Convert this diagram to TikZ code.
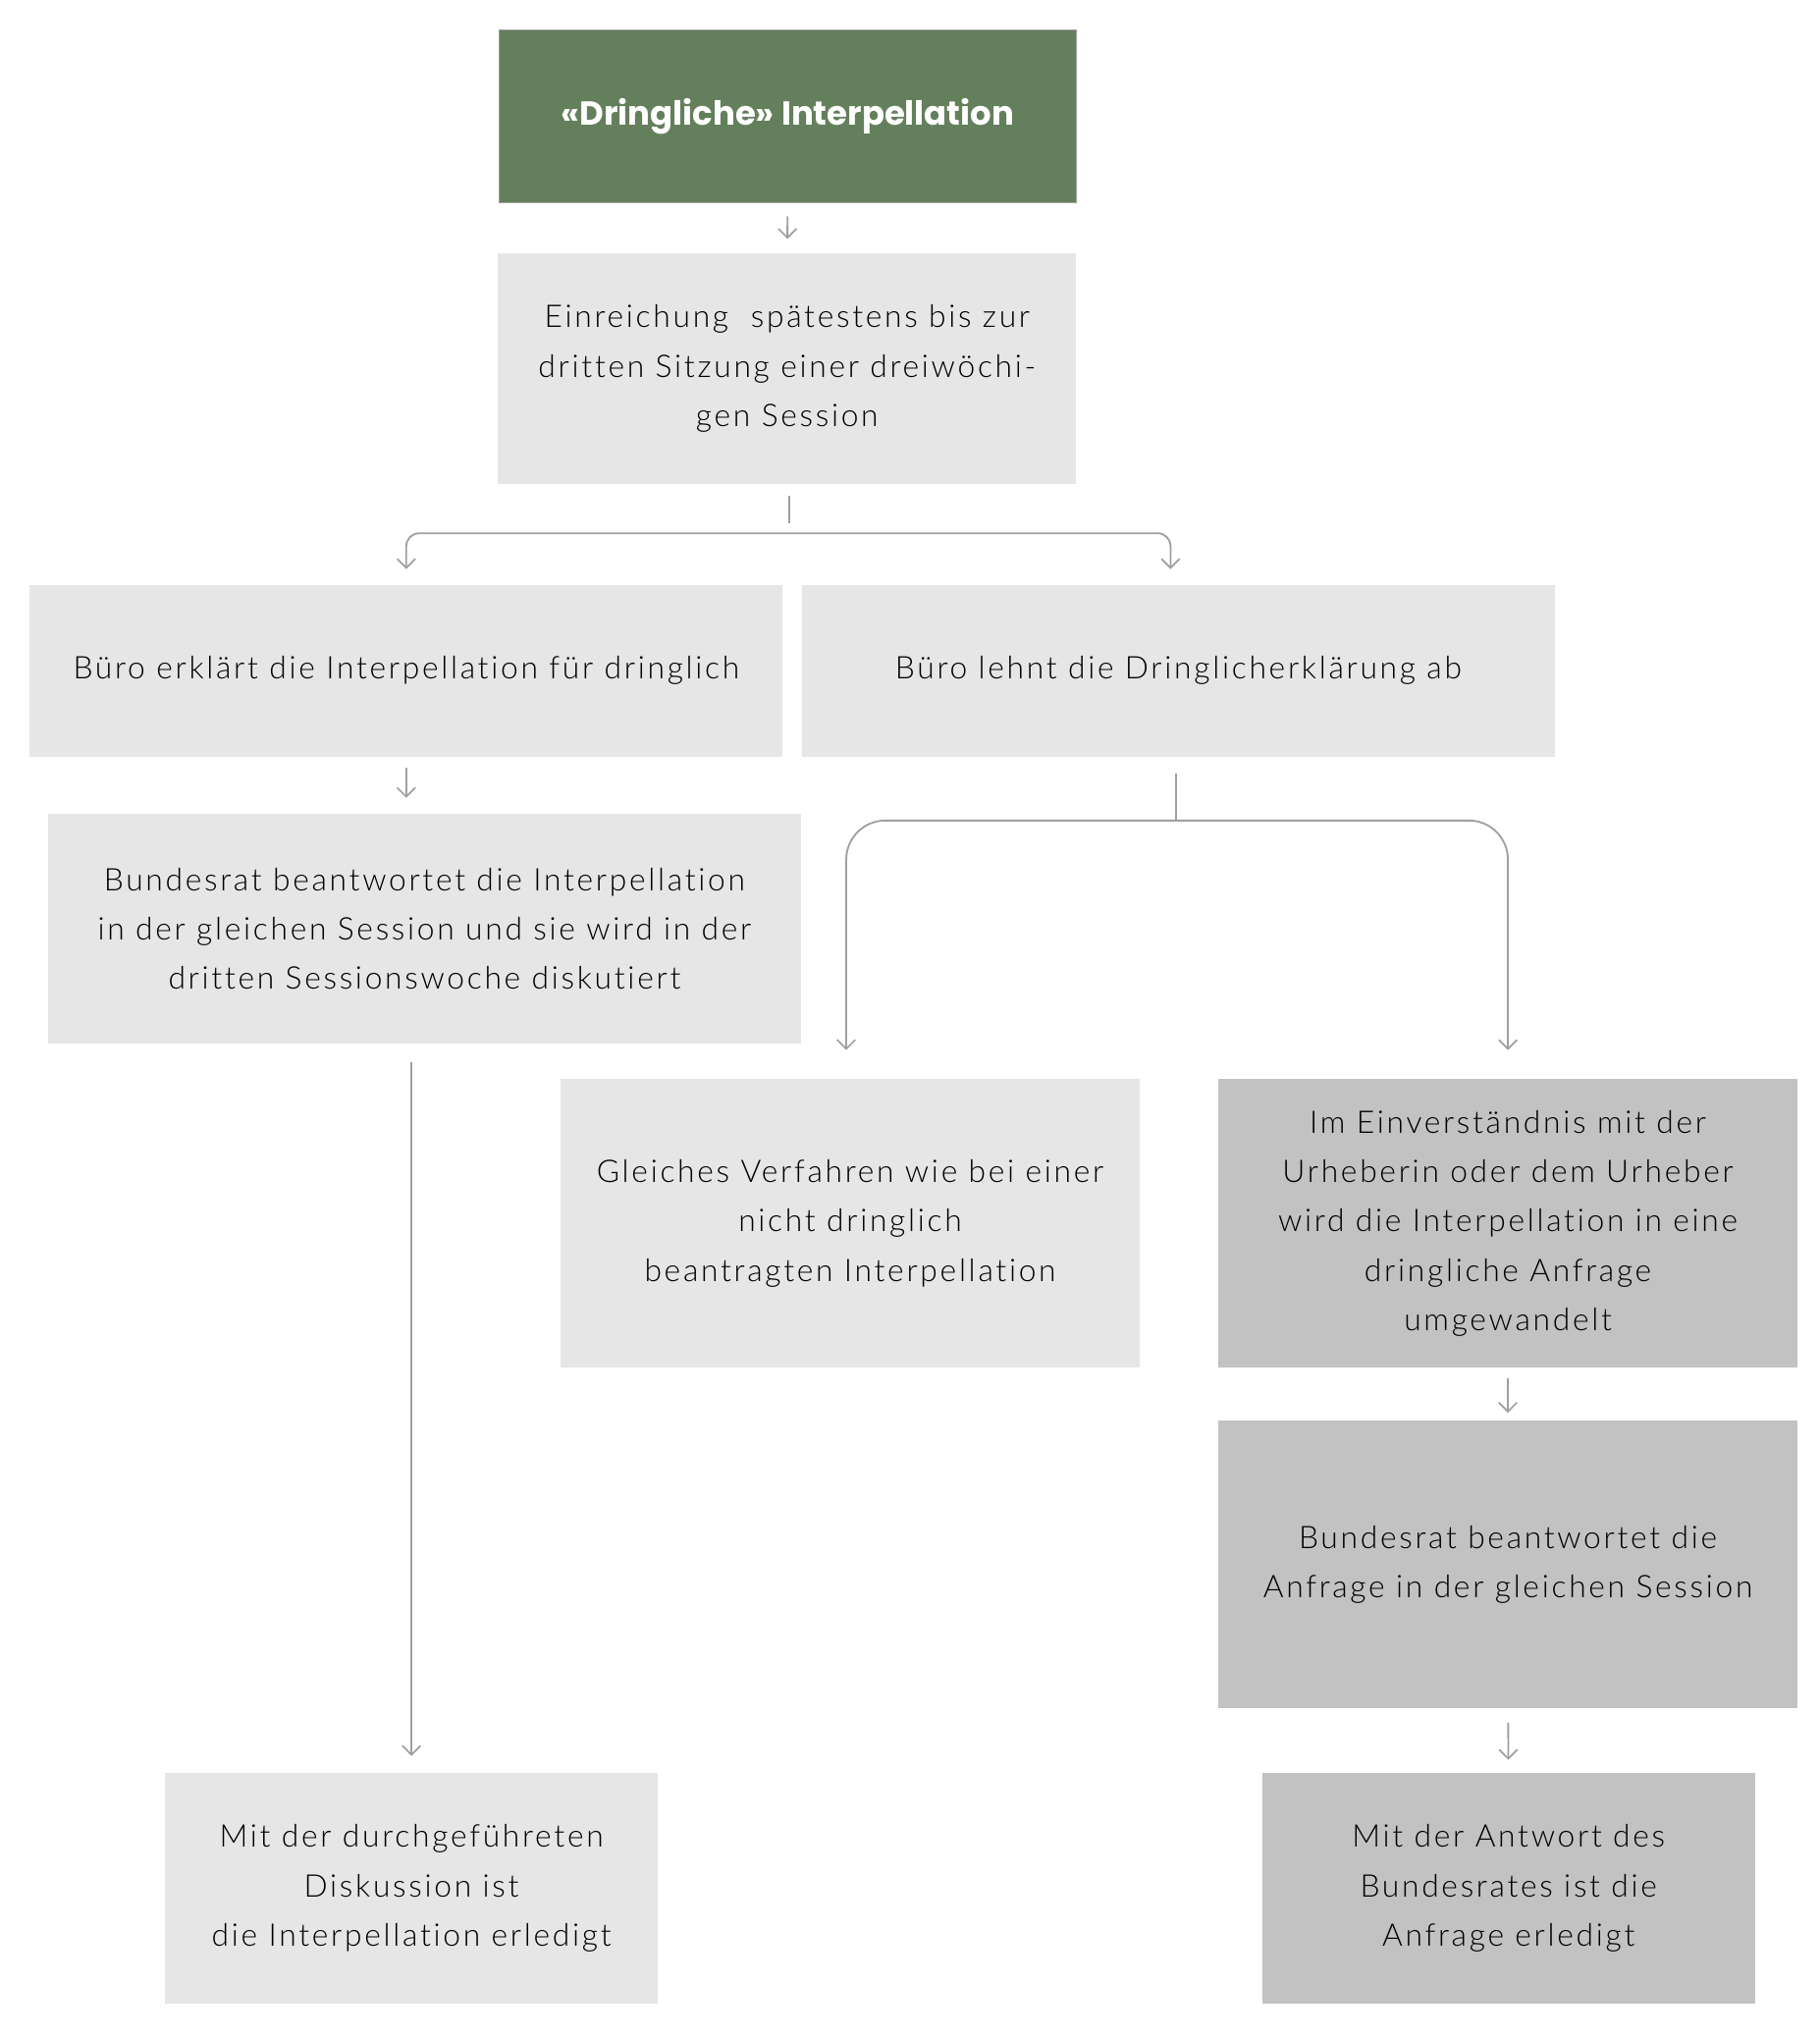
\documentclass[tikz,border=0pt]{standalone}
\usepackage{fontspec}
\setmainfont{Lato}[UprightFont={* Light},BoldFont={* Bold},LetterSpace=8.5,Ligatures=NoCommon]
\newfontfamily\titlefont{Poppins}
\usetikzlibrary{arrows.meta}
\definecolor{dgreen}{RGB}{100,127,92}
\definecolor{lgray}{RGB}{230,230,230}
\definecolor{mgray}{RGB}{194,194,194}
\definecolor{lcol}{RGB}{160,160,160}
\newcommand{\dn}[1]{\raisebox{-3pt}{\begin{tabular}{@{}c@{}}#1\end{tabular}}}
\begin{document}
\begin{tikzpicture}[x=1pt,y=-1pt,
  box/.style={fill=lgray,draw=none,inner sep=0pt,align=center,font=\fontsize{24}{38}\selectfont,text=black},
  dbox/.style={box,fill=mgray},
  conn/.style={draw=lcol,line width=1.4pt},
  arr/.style={conn,-{Straight Barb[length=7pt,width=14pt,line width=1.3pt]}}]
\useasboundingbox (0,0) rectangle (1400,1567);
% boxes
\node[box,fill=dgreen,draw=lcol,line width=1pt,minimum width=444,minimum height=133,text=white,font=\titlefont\bfseries\fontsize{25.6}{30}\selectfont] (b1) at (606,89.5) {«Dringliche» Interpellation};
\node[box,minimum width=445,minimum height=177] (b2) at (605.5,283.5) {Einreichung\ \ spätestens bis zur\\dritten Sitzung einer dreiwöchi-\\gen Session};
\node[box,minimum width=579,minimum height=132] (b3l) at (312.5,516) {Büro erklärt die Interpellation für dringlich};
\node[box,minimum width=579,minimum height=132] (b3r) at (906.5,516) {Büro lehnt die Dringlicherklärung ab};
\node[box,minimum width=579,minimum height=177] (b4) at (326.5,714.5) {Bundesrat beantwortet die Interpellation\\in der gleichen Session und sie wird in der\\dritten Sessionswoche diskutiert};
\node[box,minimum width=446,minimum height=222] (b5m) at (654,941) {Gleiches Verfahren wie bei einer\\nicht dringlich\\beantragten Interpellation};
\node[dbox,minimum width=446,minimum height=222] (b5r) at (1160,941) {Im Einverständnis mit der\\Urheberin oder dem Urheber\\wird die Interpellation in eine\\dringliche Anfrage\\umgewandelt};
\node[dbox,minimum width=446,minimum height=221] (b6) at (1160,1203.5) {Bundesrat beantwortet die\\Anfrage in der gleichen Session};
\node[box,minimum width=379,minimum height=177] (b7l) at (316.5,1452.5) {Mit der durchgeführeten\\Diskussion ist\\die Interpellation erledigt};
\node[dbox,minimum width=379,minimum height=177] (b7r) at (1160.5,1452.5) {Mit der Antwort des\\Bundesrates ist die\\Anfrage erledigt};
% connectors
\draw[arr,shorten <=10pt,shorten >=11pt] (b1) -- (b2);
\coordinate (s1) at ([yshift=-38]b2.south);
\draw[conn] ([xshift=1.5,yshift=-9]b2.south) -- ([xshift=1.5,yshift=-30]b2.south);
\draw[arr,rounded corners=10pt,shorten >=12pt] (s1) -| ([xshift=-6]b3r.north);
\draw[arr,rounded corners=10pt,shorten >=12pt] (s1) -| (b3l.north);
\draw[arr,shorten <=8pt,shorten >=12pt] (b3l) -- (b3l.south |- b4.north);
\coordinate (s2) at ([xshift=-1.5,yshift=-49]b3r.south);
\draw[conn] ([xshift=-1.5,yshift=-13]b3r.south) -- (s2);
\draw[arr,rounded corners=30pt,shorten >=22pt] (s2) -| ([xshift=-3]b5m.north);
\draw[arr,rounded corners=30pt,shorten >=22pt] (s2) -| (b5r.north);
\draw[arr,shorten <=14pt,shorten >=13pt] (b7l.north |- b4.south) -- (b7l.north);
\draw[arr,shorten <=8pt,shorten >=6pt] (b5r) -- (b6);
\draw[arr,shorten <=11pt,shorten >=10pt] (b6) -- (b7r);
\end{tikzpicture}
\end{document}
